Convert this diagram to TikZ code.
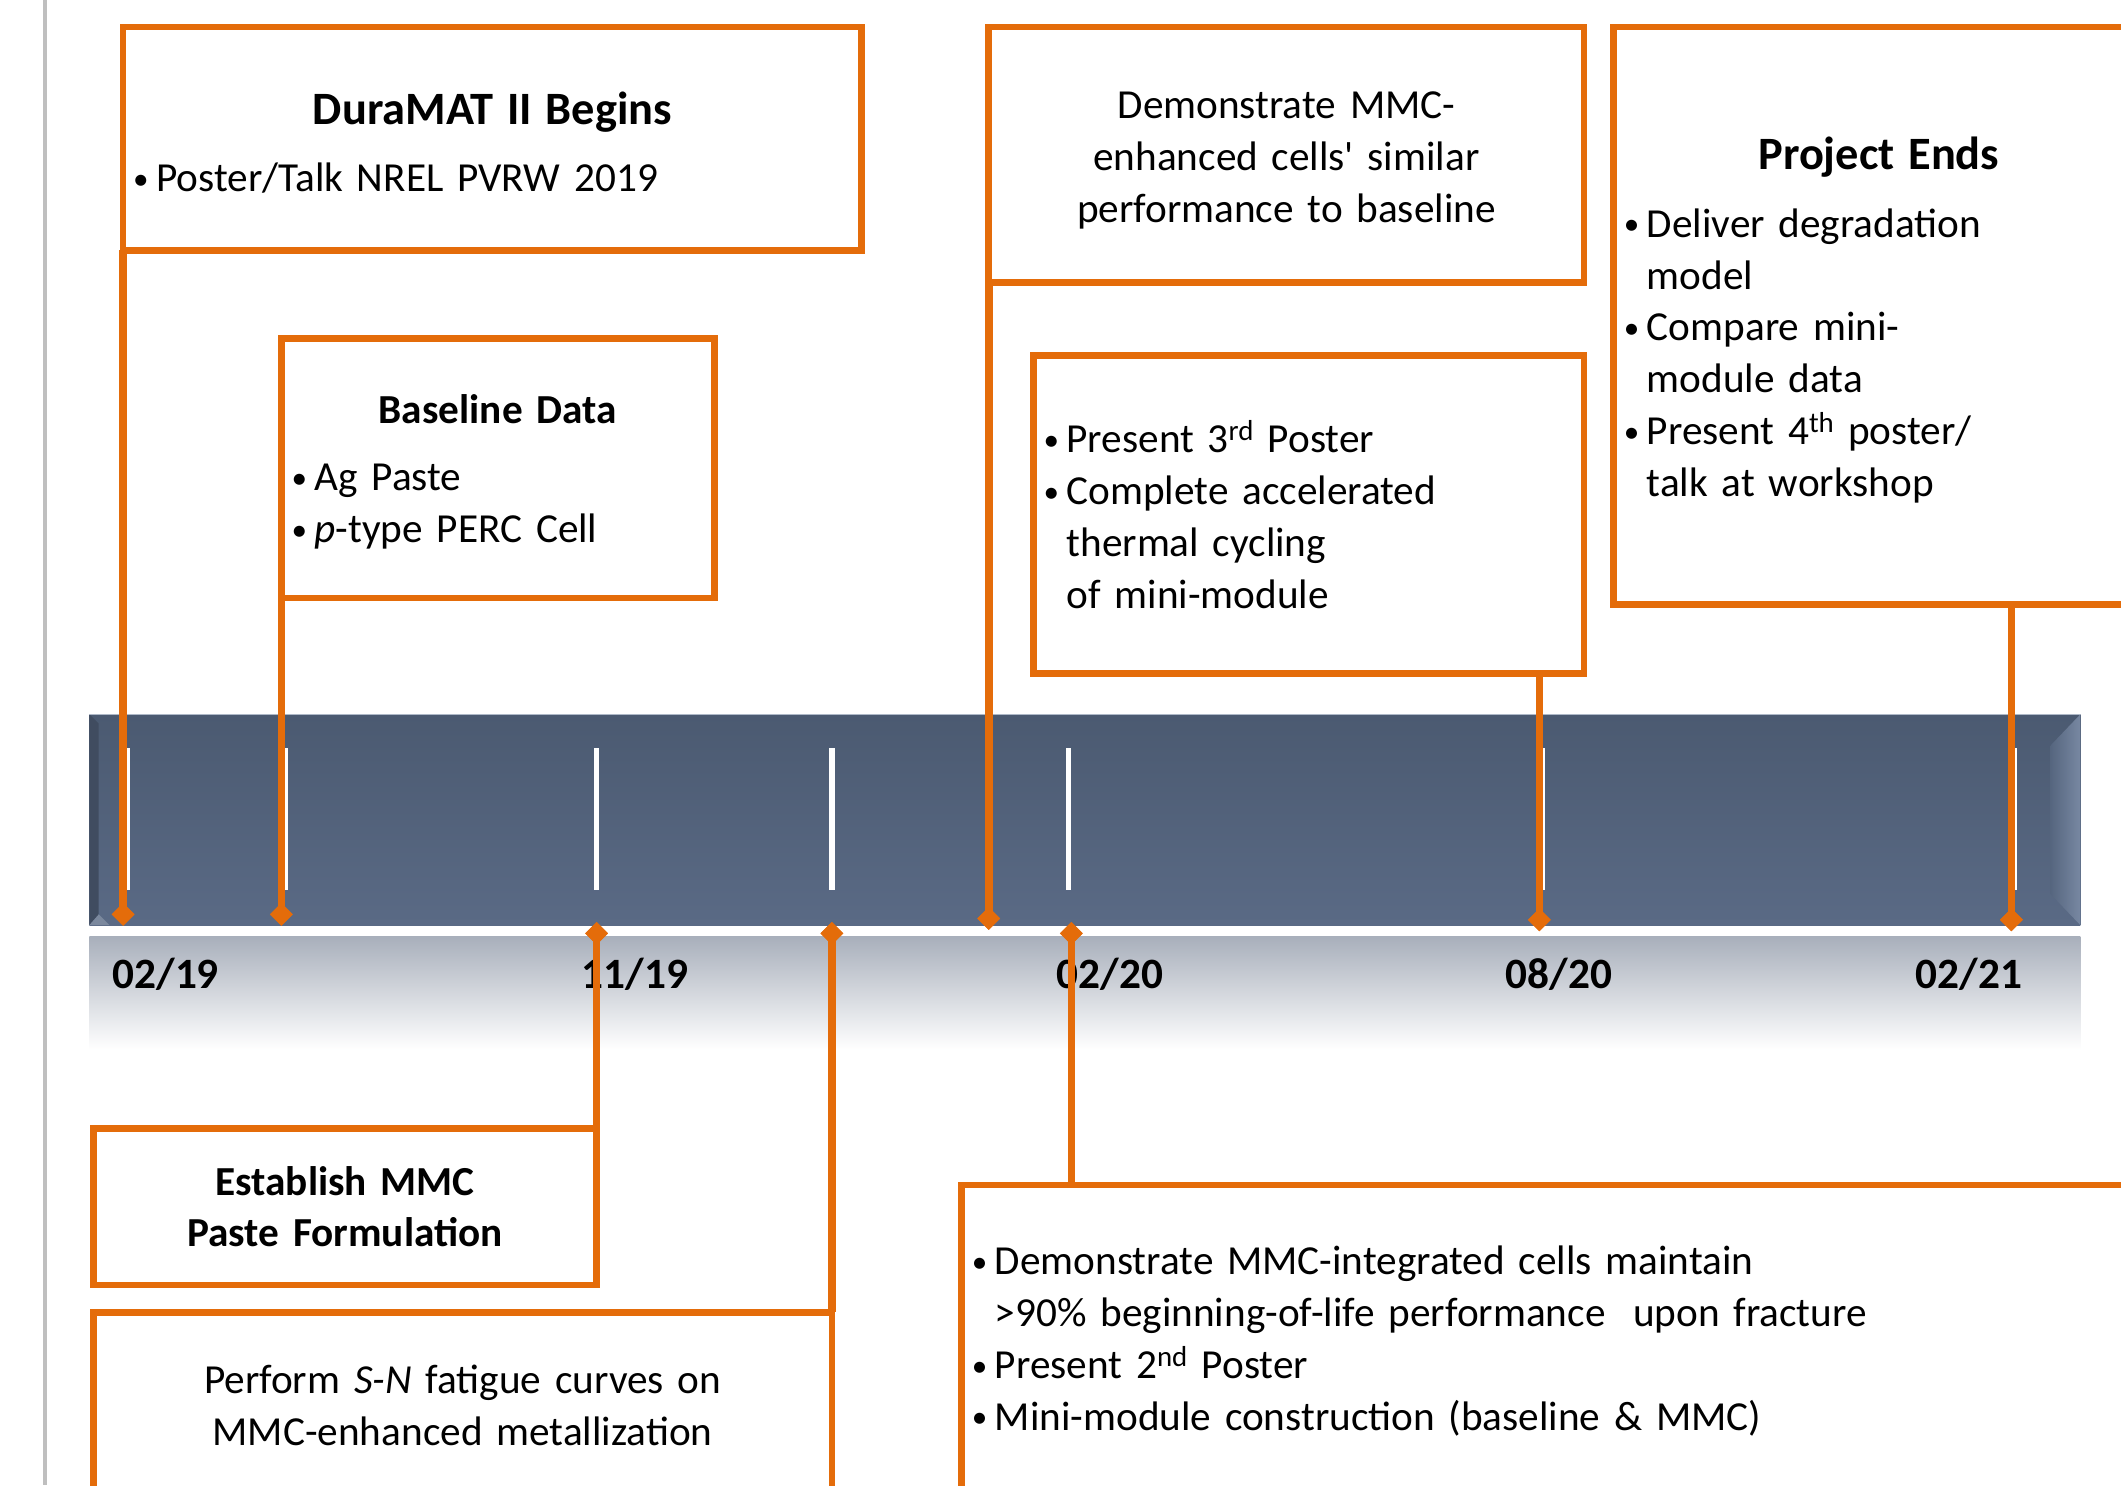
\documentclass[tikz,border=0pt]{standalone}
\usepackage{fontspec}
\setmainfont{Carlito}
\usepackage{tikz}
\usetikzlibrary{shapes.geometric}

\definecolor{mmcorange}{HTML}{E46C0A}
\definecolor{barblue}{HTML}{56667F}
\definecolor{bartop}{HTML}{4B5A71}
\definecolor{barlow}{HTML}{5A6A85}
\definecolor{barlight}{HTML}{7888A2}
\definecolor{fadegray}{HTML}{A8AFBB}
\definecolor{rulegray}{HTML}{BFBFBF}

\newcommand{\bodyfont}{\fontsize{30.5}{38.3}\selectfont}
\newcommand{\headfont}{\bfseries\fontsize{34.3}{40}\selectfont}
\newcommand{\bul}{\makebox[18.5pt][l]{\hspace{1.5pt}\raisebox{1.8pt}{\fontsize{23}{23}\selectfont •}}}
\newcommand{\ind}{\hspace*{18.5pt}}
% pulls the text of a box a little lower
\newcommand{\sink}[1]{\par\vspace{-#1}\hrule height 0pt width 0pt}

\begin{document}
\begin{tikzpicture}[x=1pt, y=-1pt,
    box/.style={draw=mmcorange, line width=5pt, outer sep=0pt, inner xsep=6pt, inner ysep=0pt, font=\bodyfont, align=left},
    link/.style={draw=mmcorange, line width=5.5pt},
    dmd/.style={diamond, fill=mmcorange, minimum width=17pt, minimum height=17pt, inner sep=0pt},
    datelabel/.style={font=\bfseries\fontsize{32}{38}\selectfont, anchor=west, inner sep=0pt},
    tickline/.style={white, line width=4pt}]
    \useasboundingbox (0,0) rectangle (1568,1098);
    \clip (0,0) rectangle (1568,1098);
    \fill[white] (0,0) rectangle (1568,1098);
    \draw[rulegray, line width=3pt] (33,0) -- (33,1098);

    % timeline bar
    \shade[top color=bartop, middle color=barblue, bottom color=barlow] (66,528) rectangle (1538,684);
    \shade[left color=barblue, right color=barlight] (1516,551) -- (1538,528) -- (1538,684) -- (1516,661) -- cycle;
    \fill[bartop!85!black] (66,528) -- (73,535) -- (73,676) -- (66,684) -- cycle;
    \fill[barlow!80!white] (66,684) -- (73,676) -- (81,684) -- cycle;
    \draw[barlight!60!white, line width=1pt] (66,528) -- (1538,528);
    \shade[top color=fadegray, bottom color=white] (66,692) rectangle (1538,776);
    \foreach \tx in {94,211,441,615,730,790,1140,1489}
        \draw[tickline] (\tx,553) -- (\tx,658);

    \node[datelabel] (d1) at (83,720) {02/19};
    \node[datelabel] (d2) at (430,720) {11/19};
    \node[datelabel] (d3) at (781,720) {02/20};
    \node[datelabel] (d4) at (1113,720) {08/20};
    \node[datelabel] (d5) at (1416,720) {02/21};

    % boxes above
    \node[box, minimum width=546, minimum height=165, text width=534] (dura) at (364,102.5)
        {{\centering\headfont DuraMAT II Begins\par}\vspace{11pt}\bul Poster/Talk NREL PVRW 2019\sink{6pt}};
    \node[box, minimum width=320, minimum height=192, text width=308] (base) at (368,346)
        {{\centering\bfseries Baseline Data\par}\vspace{11pt}\bul Ag Paste\\\bul \textit{p}-type PERC Cell\sink{6pt}};
    \node[box, align=center, minimum width=440, minimum height=189, text width=428] (demo) at (951,114.5)
        {Demonstrate MMC-\\enhanced cells\textquotesingle{} similar\\performance to baseline\sink{8pt}};
    \node[box, minimum width=407, minimum height=235, text width=395] (pres) at (967.5,380.5)
        {\bul Present 3\textsuperscript{rd} Poster\\\bul Complete accelerated\\\ind thermal cycling\\\ind of mini-module};
    \node[box, minimum width=392, minimum height=427, text width=380] (proj) at (1389,233.5)
        {{\centering\headfont Project Ends\par}\vspace{12pt}\bul Deliver degradation\\\ind model\\\bul Compare mini-\\\ind module data\\\bul Present 4\textsuperscript{th} poster/\\\ind talk at workshop\sink{6pt}};

    % boxes below
    \node[box, align=center, minimum width=372, minimum height=116, text width=360, font=\bodyfont\bfseries] (estab) at (255,892)
        {Establish MMC\\Paste Formulation};
    \node[box, align=center, minimum width=546, minimum height=138, text width=534] (perf) at (342,1039)
        {Perform \textit{S-N} fatigue curves on\\MMC-enhanced metallization};
    \node[box, minimum width=929, minimum height=231, text width=917] (integ) at (1175.5,991.5)
        {\bul Demonstrate MMC-integrated cells maintain\\\ind >90\% beginning-of-life performance\ \ upon fracture\\\bul Present 2\textsuperscript{nd} Poster\\\bul Mini-module construction (baseline \& MMC)};

    % markers on the bar
    \node[dmd] (m1) at (91,676) {};
    \node[dmd] (m2) at (208,676) {};
    \node[dmd] (m3) at (441,690) {};
    \node[dmd] (m4) at (615,690) {};
    \node[dmd] (m5) at (731,679) {};
    \node[dmd] (m6) at (792,690) {};
    \node[dmd] (m7) at (1138,680) {};
    \node[dmd] (m8) at (1487,680) {};

    \draw[link] (m1.center) -- (m1 |- dura.south);
    \draw[link] (m2.center) -- (m2 |- base.south);
    \draw[link] (m5.center) -- (m5 |- demo.south);
    \draw[link] (m7.center) -- (m7 |- pres.south);
    \draw[link] (m8.center) -- (m8 |- proj.south);
    \draw[link] (m3.center) -- (m3 |- estab.north);
    \draw[link] (m4.center) -- (m4 |- perf.north);
    \draw[link] (m6.center) -- (m6 |- integ.north);
    \foreach \m in {m1,m2,m3,m4,m5,m6,m7,m8}
        \node[dmd] at (\m) {};
\end{tikzpicture}
\end{document}
